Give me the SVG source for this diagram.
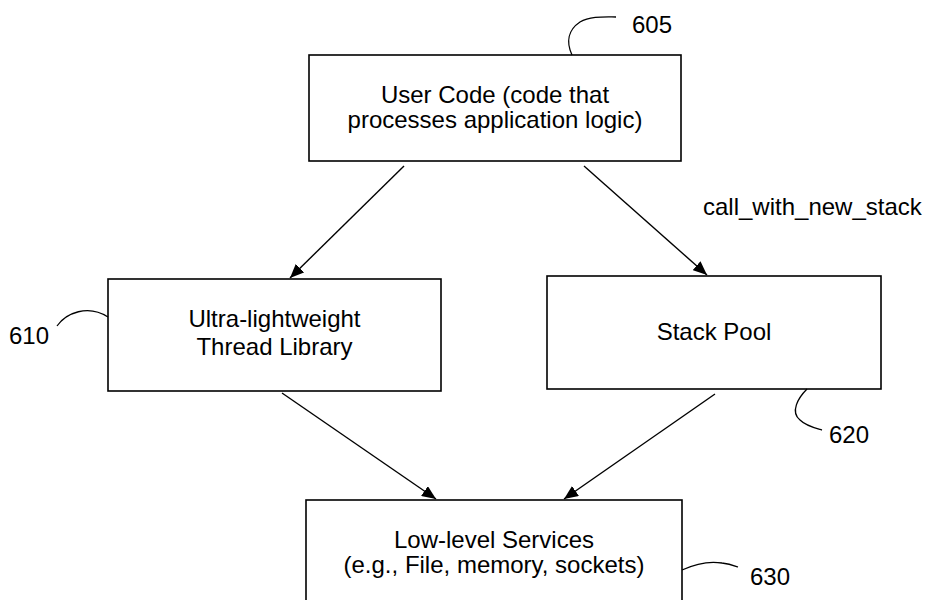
<svg xmlns="http://www.w3.org/2000/svg" width="935" height="600" viewBox="0 0 935 600">
<style>
.box{fill:#fff;stroke:#000;stroke-width:1.6}
.t{font-family:"Liberation Sans",Arial,sans-serif;font-size:24px;fill:#000}
.c{text-anchor:middle}
.conn{stroke:#000;stroke-width:1.4;fill:none}
.lead{stroke:#000;stroke-width:1.3;fill:none}
</style>
<defs>
<marker id="arr" markerUnits="userSpaceOnUse" markerWidth="14" markerHeight="12" refX="14" refY="6" orient="auto">
<path d="M0,0 L14,6 L0,12 z" fill="#000"/>
</marker>
</defs>
<rect width="935" height="600" fill="#fff"/>
<g id="connectors">
<line class="conn" x1="404" y1="166" x2="290" y2="278" marker-end="url(#arr)"/>
<line class="conn" x1="584" y1="166" x2="707" y2="275" marker-end="url(#arr)"/>
<line class="conn" x1="282" y1="393" x2="436" y2="499" marker-end="url(#arr)"/>
<line class="conn" x1="715" y1="394" x2="564" y2="499" marker-end="url(#arr)"/>
<text class="t" x="703" y="215">call_with_new_stack</text>
</g>
<g id="n605">
<rect class="box" x="309" y="55" width="372" height="106"/>
<text class="t c" x="495" y="103">User Code (code that</text>
<text class="t c" x="495" y="128">processes application logic)</text>
<path class="lead" d="M572,55 C566,42 568,30 580,22 C590,16 605,17 616,17"/>
<text class="t" x="632" y="33">605</text>
</g>
<g id="n610">
<rect class="box" x="108" y="279" width="333" height="112"/>
<text class="t c" x="274.5" y="327">Ultra-lightweight</text>
<text class="t c" x="274.5" y="355">Thread Library</text>
<path class="lead" d="M57,326 C66,313 88,304 108,317"/>
<text class="t" x="9" y="344">610</text>
</g>
<g id="n620">
<rect class="box" x="547" y="276" width="334" height="113"/>
<text class="t c" x="714" y="340">Stack Pool</text>
<path class="lead" d="M807,389 C798,398 790,412 800,420 C806,426 815,428 822,430"/>
<text class="t" x="829" y="443">620</text>
</g>
<g id="n630">
<rect class="box" x="306" y="500" width="376" height="104"/>
<text class="t c" x="494" y="548">Low-level Services</text>
<text class="t c" x="494" y="573">(e.g., File, memory, sockets)</text>
<path class="lead" d="M682,570 C695,564 710,561 722,563 C730,564 735,566 738,567"/>
<text class="t" x="750" y="585">630</text>
</g>
</svg>
